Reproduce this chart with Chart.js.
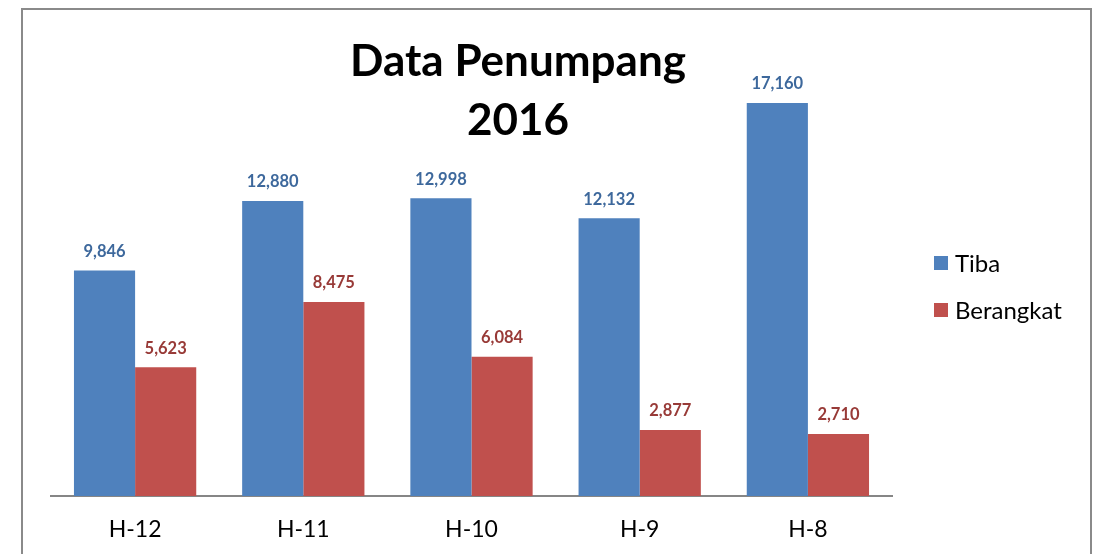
<!DOCTYPE html>
<html>
<head>
<meta charset="utf-8">
<script src="https://cdn.jsdelivr.net/npm/chart.js@4/dist/chart.umd.min.js"></script>
<style>
html,body{margin:0;padding:0;background:#fff;}
#wrap{position:relative;width:1106px;height:554px;}
</style>
</head>
<body>
<div id="wrap"><canvas id="c" width="1106" height="554"></canvas></div>
<script>
const categories = ["H-12", "H-11", "H-10", "H-9", "H-8"];
const tiba = [9846, 12880, 12998, 12132, 17160];
const berangkat = [5623, 8475, 6084, 2877, 2710];
const seriesNames = ["Tiba", "Berangkat"];
const titleLines = ["Data Penumpang", "2016"];

const FONT = "Lato, 'Open Sans', sans-serif";
const barColors = ["#4f81bd", "#c0504d"];
const labelColors = ["#3d689c", "#983a37"];

const framePlugin = {
  id: 'frame',
  beforeDraw(chart) {
    const ctx = chart.ctx;
    ctx.save();
    ctx.fillStyle = '#fff';
    ctx.fillRect(0, 0, chart.width, chart.height);
    ctx.strokeStyle = '#8a8a8a';
    ctx.lineWidth = 2;
    ctx.strokeRect(22, 9, 1069, 700);
    ctx.restore();
  }
};

const overlayPlugin = {
  id: 'overlay',
  afterDatasetsDraw(chart) {
    const ctx = chart.ctx;
    ctx.save();
    // value labels
    chart.data.datasets.forEach((ds, i) => {
      const meta = chart.getDatasetMeta(i);
      ctx.font = "bold 16.5px " + FONT;
      ctx.fillStyle = labelColors[i];
      ctx.textAlign = 'center';
      ctx.textBaseline = 'middle';
      meta.data.forEach((bar, j) => {
        ctx.fillText(ds.data[j].toLocaleString('en-US'), bar.x, bar.y - 19);
      });
    });
    // title
    ctx.font = "bold 44px " + FONT;
    ctx.fillStyle = '#000';
    ctx.textAlign = 'center';
    ctx.textBaseline = 'middle';
    ctx.fillText(titleLines[0], 518, 62);
    ctx.fillText(titleLines[1], 518, 121);
    // legend
    ctx.font = "24px " + FONT;
    ctx.textAlign = 'left';
    seriesNames.forEach((n, i) => {
      const y = 263 + i * 47;
      ctx.fillStyle = barColors[i];
      ctx.fillRect(934, y - 7, 14, 14);
      ctx.fillStyle = '#000';
      ctx.fillText(n, 955, y + 1);
    });
    ctx.restore();
  }
};

new Chart(document.getElementById('c'), {
  type: 'bar',
  data: {
    labels: categories,
    datasets: [
      { label: seriesNames[0], data: tiba, backgroundColor: barColors[0], categoryPercentage: 0.727, barPercentage: 1.0 },
      { label: seriesNames[1], data: berangkat, backgroundColor: barColors[1], categoryPercentage: 0.727, barPercentage: 1.0 }
    ]
  },
  options: {
    responsive: false,
    animation: false,
    devicePixelRatio: 1,
    layout: { padding: { left: 51, right: 214, top: 38, bottom: 0 } },
    plugins: { legend: { display: false }, title: { display: false }, tooltip: { enabled: false } },
    scales: {
      x: {
        grid: { display: false, drawTicks: false },
        border: { display: true, color: '#868686', width: 2 },
        ticks: { color: '#000', font: { family: FONT, size: 23 }, padding: 20 },
        afterFit(scale) { scale.height = 58; }
      },
      y: {
        display: false,
        min: 0,
        max: 20000
      }
    }
  },
  plugins: [framePlugin, overlayPlugin]
});
</script>
</body>
</html>
